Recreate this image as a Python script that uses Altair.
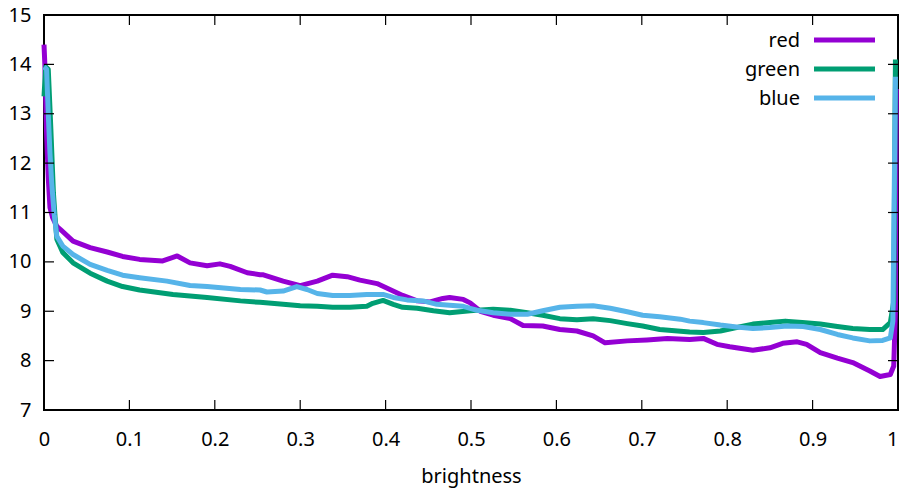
import altair as alt
import pandas as pd

# ---- data ----
red_x = [0.000, 0.001, 0.003, 0.005, 0.007, 0.010, 0.015, 0.019, 0.034, 0.054, 0.074, 0.092,
         0.112, 0.139, 0.156, 0.171, 0.191, 0.206, 0.218, 0.238, 0.253, 0.256, 0.280, 0.300,
         0.320, 0.338, 0.355, 0.370, 0.390, 0.405, 0.420, 0.437, 0.452, 0.467, 0.475, 0.491,
         0.499, 0.511, 0.526, 0.546, 0.561, 0.584, 0.604, 0.624, 0.643, 0.657, 0.683, 0.706,
         0.730, 0.756, 0.772, 0.788, 0.803, 0.830, 0.850, 0.865, 0.882, 0.893, 0.909, 0.929,
         0.947, 0.967, 0.979, 0.991, 0.995, 0.997, 0.998]
red_y = [14.40, 14.00, 12.60, 11.70, 11.10, 10.90, 10.72, 10.66, 10.42, 10.29, 10.20, 10.11,
         10.05, 10.02, 10.12, 9.98, 9.92, 9.96, 9.91, 9.78, 9.74, 9.74, 9.61, 9.52,
         9.61, 9.73, 9.70, 9.63, 9.56, 9.44, 9.32, 9.21, 9.19, 9.26, 9.28, 9.24,
         9.17, 9.00, 8.92, 8.85, 8.71, 8.70, 8.63, 8.60, 8.50, 8.36, 8.40, 8.42,
         8.45, 8.43, 8.45, 8.33, 8.28, 8.21, 8.26, 8.35, 8.38, 8.33, 8.16, 8.05,
         7.96, 7.79, 7.68, 7.72, 7.89, 9.00, 13.50]

green_x = [0.000, 0.002, 0.005, 0.008, 0.011, 0.013, 0.015, 0.022, 0.034, 0.054, 0.074, 0.092,
           0.112, 0.151, 0.191, 0.230, 0.253, 0.280, 0.300, 0.320, 0.338, 0.358, 0.378, 0.385,
           0.397, 0.409, 0.420, 0.437, 0.456, 0.475, 0.499, 0.507, 0.526, 0.546, 0.566, 0.584,
           0.604, 0.624, 0.643, 0.663, 0.683, 0.701, 0.721, 0.756, 0.772, 0.792, 0.811, 0.830,
           0.850, 0.868, 0.888, 0.909, 0.929, 0.947, 0.967, 0.982, 0.991, 0.995, 0.997]
green_y = [13.35, 13.95, 13.90, 12.70, 11.40, 10.90, 10.46, 10.19, 9.98, 9.77, 9.61, 9.50,
           9.43, 9.34, 9.28, 9.21, 9.18, 9.14, 9.11, 9.10, 9.08, 9.08, 9.10, 9.16,
           9.22, 9.14, 9.08, 9.06, 9.01, 8.97, 9.01, 9.02, 9.04, 9.02, 8.97, 8.92,
           8.85, 8.83, 8.85, 8.81, 8.75, 8.70, 8.63, 8.58, 8.57, 8.60, 8.67, 8.74,
           8.77, 8.80, 8.77, 8.74, 8.69, 8.65, 8.63, 8.63, 8.77, 9.20, 14.10]

blue_x = [0.000, 0.003, 0.005, 0.007, 0.009, 0.012, 0.015, 0.022, 0.034, 0.054, 0.074, 0.092,
          0.112, 0.144, 0.171, 0.191, 0.230, 0.253, 0.261, 0.280, 0.296, 0.308, 0.320, 0.338,
          0.358, 0.378, 0.397, 0.409, 0.425, 0.444, 0.460, 0.475, 0.491, 0.499, 0.507, 0.526,
          0.546, 0.566, 0.584, 0.604, 0.624, 0.643, 0.663, 0.683, 0.701, 0.721, 0.745, 0.756,
          0.772, 0.792, 0.811, 0.830, 0.850, 0.870, 0.889, 0.909, 0.929, 0.947, 0.967, 0.982,
          0.991, 0.994, 0.997]
blue_y = [13.95, 13.90, 13.00, 12.20, 11.60, 10.95, 10.52, 10.32, 10.15, 9.95, 9.83, 9.73,
          9.68, 9.61, 9.52, 9.50, 9.44, 9.43, 9.39, 9.41, 9.50, 9.44, 9.36, 9.32,
          9.32, 9.34, 9.34, 9.28, 9.23, 9.21, 9.14, 9.12, 9.10, 9.06, 9.02, 8.97,
          8.94, 8.94, 9.01, 9.08, 9.10, 9.11, 9.06, 8.99, 8.92, 8.89, 8.84, 8.80,
          8.77, 8.72, 8.68, 8.65, 8.67, 8.70, 8.69, 8.63, 8.53, 8.46, 8.40, 8.41,
          8.46, 8.80, 13.75]

series_names = ["red", "green", "blue"]
series_colors = ["#9400d3", "#009e73", "#56b4e9"]
x_ticks = [0, 0.1, 0.2, 0.3, 0.4, 0.5, 0.6, 0.7, 0.8, 0.9, 1]
y_ticks = [7, 8, 9, 10, 11, 12, 13, 14, 15]

W, H = 854, 395
FONT = "Noto Sans"
FS = 20

xscale = alt.Scale(domain=[0, 1], nice=False, zero=False)
yscale = alt.Scale(domain=[7, 15], nice=False, zero=False)

xaxis = alt.Axis(values=x_ticks, format="~g", ticks=False, domain=False, grid=False,
                 labelPadding=19, labelFlush=False,
                 labelAlign=alt.ExprRef(expr="datum.value == 1 ? 'right' : 'center'"),
                 title="brightness", titlePadding=17,
                 labelFontSize=FS, titleFontSize=FS, labelFont=FONT, titleFont=FONT,
                 titleFontWeight="normal", labelColor="black", titleColor="black")
yaxis = alt.Axis(values=y_ticks, ticks=False, domain=False, grid=False,
                 labelPadding=13, labelFlush=False, title=None,
                 labelFontSize=FS, labelFont=FONT, labelColor="black")

X = lambda: alt.X("x:Q", scale=xscale, axis=xaxis, title="brightness")
Y = lambda: alt.Y("y:Q", scale=yscale, axis=yaxis, title=None)


def line_layer(xs, ys, color):
    df = pd.DataFrame({"x": xs, "y": ys})
    return alt.Chart(df).mark_line(color=color, strokeWidth=5, strokeJoin="round").encode(
        x=X(), y=Y())


layers = [
    line_layer(red_x, red_y, series_colors[0]),
    line_layer(green_x, green_y, series_colors[1]),
    line_layer(blue_x, blue_y, series_colors[2]),
]

xt = pd.DataFrame({"x": x_ticks})
yt = pd.DataFrame({"y": y_ticks})
tick_style = dict(color="black", strokeWidth=1.2)
layers += [
    alt.Chart(xt).mark_rule(**tick_style).encode(x=X(), y=alt.value(H), y2=alt.value(H - 10)),
    alt.Chart(xt).mark_rule(**tick_style).encode(x=X(), y=alt.value(0), y2=alt.value(10)),
    alt.Chart(yt).mark_rule(**tick_style).encode(y=Y(), x=alt.value(0), x2=alt.value(10)),
    alt.Chart(yt).mark_rule(**tick_style).encode(y=Y(), x=alt.value(W), x2=alt.value(W - 10)),
]

# legend (gnuplot style: label right-aligned, sample line to its right)
leg_rows = [26, 55, 84]
for name, col, yy in zip(series_names, series_colors, leg_rows):
    ldf = pd.DataFrame({"name": [name]})
    layers.append(alt.Chart(ldf).mark_text(align="right", baseline="middle", font=FONT,
                                           fontSize=FS, color="black").encode(
        text="name:N", x=alt.value(756), y=alt.value(yy)))
    layers.append(alt.Chart(ldf).mark_rule(color=col, strokeWidth=5).encode(
        x=alt.value(770), x2=alt.value(831), y=alt.value(yy - 1)))

chart = alt.layer(*layers).properties(
    width=W, height=H,
    autosize=alt.AutoSizeParams(type="none"),
    padding={"left": 36, "top": 7, "right": 1, "bottom": 78},
    background="white",
).configure_view(stroke="black", strokeWidth=2)

chart.save("out.html", embed_options={"renderer": "svg", "actions": False})
